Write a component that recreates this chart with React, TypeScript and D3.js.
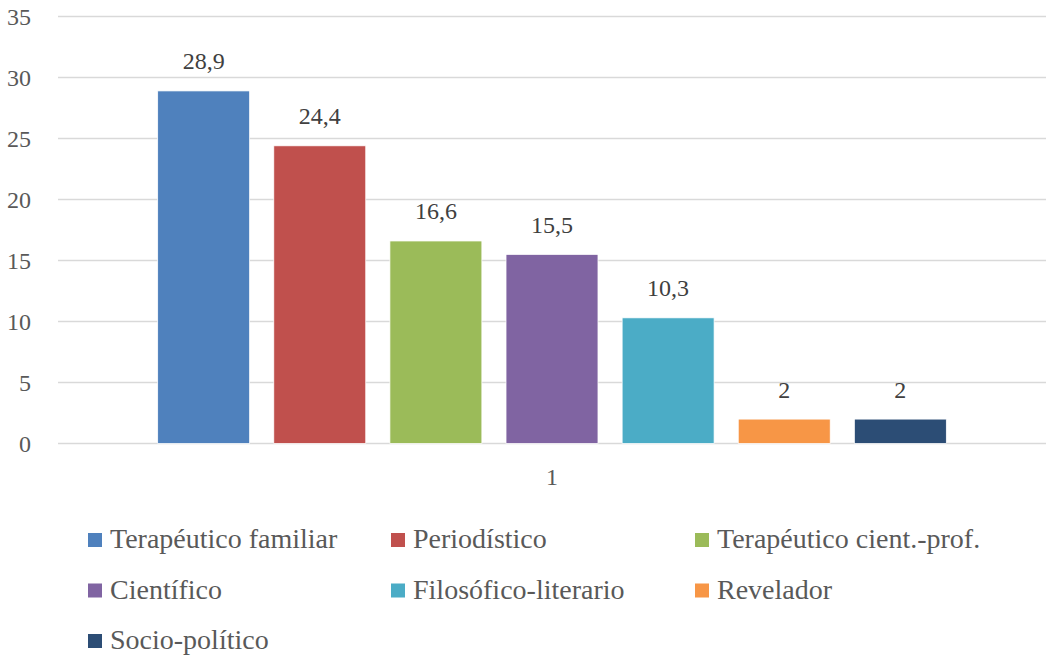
import React from "react";
import * as d3 from "d3";

const categories = ["1"];
const seriesNames = [
  "Terapéutico familiar",
  "Periodístico",
  "Terapéutico cient.-prof.",
  "Científico",
  "Filosófico-literario",
  "Revelador",
  "Socio-político",
];
const seriesValues = [28.9, 24.4, 16.6, 15.5, 10.3, 2, 2];
const valueLabels = ["28,9", "24,4", "16,6", "15,5", "10,3", "2", "2"];
const seriesColors = ["#4F81BD", "#C0504D", "#9BBB59", "#8064A2", "#4BACC6", "#F79646", "#2C4D75"];
const yTicks = [0, 5, 10, 15, 20, 25, 30, 35];

const W = 1057;
const H = 663;
const FONT = "Liberation Serif, Tinos, DejaVu Serif, Noto Serif, serif";

export default function App() {
  const plotLeft = 58;
  const plotRight = 1046;
  const y = d3.scaleLinear().domain([0, 35]).range([443.5, 16.5]);
  const x0 = d3.scaleBand<string>().domain(categories).range([plotLeft, plotRight]).paddingInner(0).paddingOuter(0.1264);
  const x1 = d3
    .scaleBand<string>()
    .domain(seriesNames)
    .range([0, x0.bandwidth()])
    .paddingInner(0.208)
    .paddingOuter(0);

  const legendCols = [88, 391, 695];
  const legendRowY = [533, 583.5, 634];

  return (
    <svg width={W} height={H} style={{ position: "absolute", left: 0, top: 0, background: "#fff", fontFamily: FONT }}>
      {yTicks.map((t) => (
        <g key={t}>
          <line x1={plotLeft} x2={plotRight} y1={y(t)} y2={y(t)} stroke="#D9D9D9" strokeWidth={1.3} />
          <text x={31} y={y(t)} dy="0.35em" textAnchor="end" fontSize={24} fill="#595959">
            {t}
          </text>
        </g>
      ))}
      {categories.map((c) => (
        <g key={c}>
          {seriesNames.map((s, i) => {
            const bx = (x0(c) ?? 0) + (x1(s) ?? 0);
            const v = seriesValues[i];
            return (
              <g key={s}>
                <rect
                  x={bx}
                  y={y(v)}
                  width={x1.bandwidth()}
                  height={y(0) - y(v)}
                  fill={seriesColors[i]}
                  stroke="#ffffff"
                  strokeWidth={0.75}
                />
                <text x={bx + x1.bandwidth() / 2} y={y(v) - 21.5} textAnchor="middle" fontSize={24} fill="#404040">
                  {valueLabels[i]}
                </text>
              </g>
            );
          })}
          <text x={(x0(c) ?? 0) + x0.bandwidth() / 2} y={485} textAnchor="middle" fontSize={24} fill="#595959">
            {c}
          </text>
        </g>
      ))}
      {seriesNames.map((s, i) => {
        const col = i % 3;
        const row = Math.floor(i / 3);
        const lx = legendCols[col];
        const ly = legendRowY[row];
        return (
          <g key={s}>
            <rect x={lx} y={ly} width={14} height={14} fill={seriesColors[i]} />
            <text x={lx + 22} y={ly + 15} fontSize={28} fill="#595959">
              {s}
            </text>
          </g>
        );
      })}
    </svg>
  );
}
